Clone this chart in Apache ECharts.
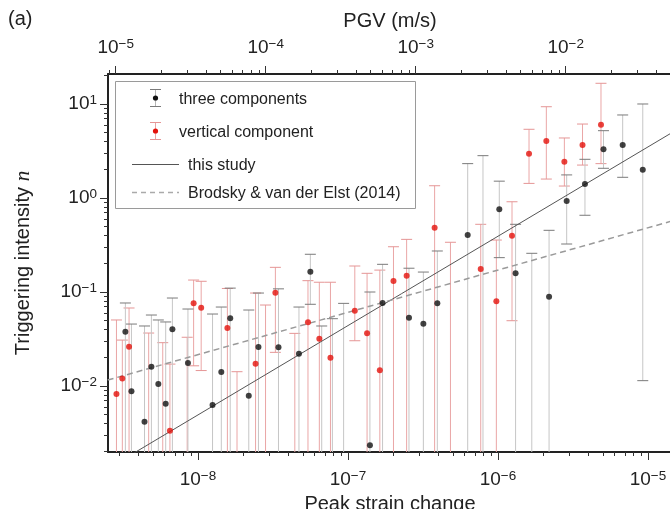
<!DOCTYPE html>
<html>
<head>
<meta charset="utf-8">
<script src="https://cdn.jsdelivr.net/npm/echarts@6/dist/echarts.min.js"></script>
<style>html,body{margin:0;padding:0;background:#fff}#c{width:670px;height:509px}</style>
</head>
<body>
<div id="c"></div>
<script>
// ---------- data ----------
// three components: peak strain change, triggering intensity, lower/upper error (0 = extends below axis)
const threeStrain = [3.28e-9,3.60e-9,4.40e-9,4.89e-9,5.44e-9,6.09e-9,6.75e-9,8.57e-9,1.25e-8,1.43e-8,1.64e-8,2.18e-8,2.53e-8,3.44e-8,4.71e-8,5.61e-8,1.40e-7,1.70e-7,2.55e-7,3.18e-7,3.94e-7,6.28e-7,1.02e-6,1.31e-6,2.19e-6,2.87e-6,3.80e-6,5.05e-6,6.78e-6,9.23e-6];
const threeN      = [0.0378,0.00877,0.00417,0.0160,0.0105,0.00649,0.0401,0.0176,0.00628,0.0141,0.0525,0.00788,0.026,0.0258,0.0220,0.164,0.00234,0.0764,0.0533,0.046,0.0757,0.404,0.758,0.158,0.0891,0.929,1.41,3.30,3.66,2.00];
const threeLow    = [0,0,0,0,0,0,0,0,0,0,0,0,0,0,0,0.0740,0,0,0,0,0,0,0.232,0,0,0.324,0.655,2.07,1.66,0.0114];
const threeHigh   = [0.0764,0.0456,0.0435,0.0569,0.0504,0.048,0.0863,0.0659,0.0583,0.0692,0.110,0.0643,0.0975,0.108,0.0692,0.252,0.100,0.197,0.179,0.163,0.273,2.32,1.51,0.525,0.453,1.76,2.58,5.20,7.64,10.0];
// three components whose intensity lies below the plotted range (only upper error visible)
const threeHiddenStrain = [6.68e-8,7.87e-8,9.35e-8,7.94e-7,1.68e-6];
const threeHiddenHigh   = [0.0435,0.052,0.0757,2.82,0.258];

// vertical component
const vertStrain = [2.86e-9,3.13e-9,3.47e-9,6.50e-9,9.35e-9,1.05e-8,1.57e-8,2.42e-8,3.28e-8,5.41e-8,6.44e-8,7.64e-8,1.11e-7,1.34e-7,1.63e-7,2.01e-7,2.46e-7,3.78e-7,7.67e-7,9.75e-7,1.24e-6,1.61e-6,2.10e-6,2.77e-6,3.66e-6,4.86e-6];
const vertN      = [0.00822,0.0120,0.0262,0.00334,0.0757,0.0681,0.0414,0.0173,0.0982,0.0476,0.0318,0.0200,0.0632,0.0363,0.0147,0.131,0.149,0.483,0.176,0.0796,0.397,2.96,4.04,2.43,3.66,6.02];
const vertLow    = [0,0,0,0,0.0164,0.0146,0,0,0.0228,0,0,0,0.0303,0,0,0,0,0,0,0,0.0495,1.43,1.59,1.34,2.24,2.32];
const vertHigh   = [0.0504,0.0308,0.0676,0.0171,0.134,0.130,0.109,0.0975,0.183,0.132,0.127,0.127,0.189,0.158,0.171,0.303,0.363,1.35,0.525,0.357,0.912,5.38,9.35,4.35,6.12,16.6];
const vertHiddenStrain = [4.69e-9,5.82e-9,8.47e-9,1.82e-8,2.82e-8,4.42e-8,4.82e-7];
const vertHiddenHigh   = [0.0366,0.0289,0.033,0.0142,0.0727,0.0363,0.338];

// fitted lines
const thisStudyStrain = [2.5e-9, 1.5e-5];
const thisStudyN      = [0.00132, 5.14];
const brodskyStrain   = [2.5e-9, 1.5e-5];
const brodskyN        = [0.01156, 0.579];

// axes (log10 exponents)
const strainTicks = [-8,-7,-6,-5];
const pgvTicks    = [-5,-4,-3,-2];
const nTicks      = [-2,-1,0,1];
const pgvPerStrain = 3540;   // PGV (m/s) = strain * 3540

// ---------- build ----------
const LOG = Math.log10;
const FONT = "'Liberation Sans', Arial, Helvetica, sans-serif";
const X_MIN = -8.6, X_MAX = -4.84, Y_MIN = -2.702, Y_MAX = 1.319;
const PGV_SHIFT = LOG(pgvPerStrain);

function minorTicks(min, max) {
  const out = [];
  for (let n = Math.floor(min); n <= Math.ceil(max); n++)
    for (let k = 2; k <= 9; k++) { const v = n + LOG(k); if (v > min && v < max) out.push(v); }
  return out;
}
function powLabel(v) {
  const e = Math.round(v);
  return '{b|10}{s|' + (e < 0 ? '\u2212' + (-e) : String(e)) + '}';
}
const rich = {
  b: {fontSize: 19, fontFamily: FONT, color: '#222', lineHeight: 22},
  s: {fontSize: 13.5, fontFamily: FONT, color: '#222', lineHeight: 13, verticalAlign: 'top'}
};
const nameStyle = {fontSize: 20, fontFamily: FONT, color: '#222'};

function majorAxis(position, min, max, ticks, name, nameGap, margin) {
  return {
    type: 'value', position, min, max,
    axisLine: {show: true, onZero: false, lineStyle: {color: '#222', width: 2}},
    axisTick: {show: true, customValues: ticks, length: 8, lineStyle: {color: '#333', width: 1}},
    axisLabel: {show: true, customValues: ticks, formatter: powLabel, rich, margin},
    splitLine: {show: false},
    name, nameLocation: 'middle', nameGap, nameTextStyle: nameStyle
  };
}
function minorAxis(position, min, max) {
  return {
    type: 'value', position, min, max,
    axisLine: {show: false, onZero: false},
    axisTick: {show: true, customValues: minorTicks(min, max), length: 4, lineStyle: {color: '#333', width: 1}},
    axisLabel: {show: false},
    splitLine: {show: false}
  };
}

function errorBars(lineColor, capColor) {
  return function (params, api) {
    const cs = params.coordSys;
    const x = api.value(0), lo = api.value(1), hi = api.value(2);
    const top = api.coord([x, hi]);
    const bot = api.coord([x, lo]);
    const yMin = cs.y, yMax = cs.y + cs.height;
    const px = top[0], w = 5.5;
    const y1 = Math.max(yMin, top[1]), y2 = Math.min(yMax, bot[1]);
    const children = [{type: 'line', shape: {x1: px, y1: y1, x2: px, y2: y2}, style: {stroke: lineColor, lineWidth: 1}}];
    if (top[1] >= yMin) children.push({type: 'line', shape: {x1: px - w, y1: top[1], x2: px + w, y2: top[1]}, style: {stroke: capColor, lineWidth: 1}});
    if (bot[1] <= yMax) children.push({type: 'line', shape: {x1: px - w, y1: bot[1], x2: px + w, y2: bot[1]}, style: {stroke: capColor, lineWidth: 1}});
    return {type: 'group', children};
  };
}
function barData(strain, low, high) {
  return strain.map((s, i) => [LOG(s), low[i] > 0 ? LOG(low[i]) : -99, LOG(high[i])]);
}

const threeBars = barData(threeStrain, threeLow, threeHigh)
  .concat(barData(threeHiddenStrain, threeHiddenStrain.map(() => 0), threeHiddenHigh));
const vertBars = barData(vertStrain, vertLow, vertHigh)
  .concat(barData(vertHiddenStrain, vertHiddenStrain.map(() => 0), vertHiddenHigh));

const option = {
  animation: false,
  backgroundColor: '#fff',
  grid: {left: 108, right: -2, top: 74, bottom: 57, containLabel: false, outerBoundsMode: 'none'},
  xAxis: [
    majorAxis('bottom', X_MIN, X_MAX, strainTicks, 'Peak strain change', 37, 17),
    minorAxis('bottom', X_MIN, X_MAX),
    majorAxis('top', X_MIN + PGV_SHIFT, X_MAX + PGV_SHIFT, pgvTicks, 'PGV (m/s)', 43, 15),
    minorAxis('top', X_MIN + PGV_SHIFT, X_MAX + PGV_SHIFT)
  ],
  yAxis: [
    Object.assign(majorAxis('left', Y_MIN, Y_MAX, nTicks, 'Triggering intensity {i|n}', 74, 11), {
      nameTextStyle: Object.assign({}, nameStyle, {rich: {i: {fontSize: 21, fontFamily: "'Liberation Serif', 'Times New Roman', serif", fontStyle: 'italic', color: '#222'}}})
    }),
    minorAxis('left', Y_MIN, Y_MAX)
  ],
  series: [
    {type: 'custom', name: 'vertical component bars', xAxisIndex: 0, yAxisIndex: 0, renderItem: errorBars('#eaa6a6', '#e59595'),
     data: vertBars, encode: {x: 0, y: [1, 2]}, z: 1, silent: true},
    {type: 'custom', name: 'three components bars', xAxisIndex: 0, yAxisIndex: 0, renderItem: errorBars('#c6c6c6', '#7a7a7a'),
     data: threeBars, encode: {x: 0, y: [1, 2]}, z: 1, silent: true},
    {type: 'line', name: 'this study', xAxisIndex: 0, yAxisIndex: 0, showSymbol: false, silent: true, z: 2,
     data: thisStudyStrain.map((s, i) => [LOG(s), LOG(thisStudyN[i])]),
     lineStyle: {color: '#555', width: 1}},
    {type: 'line', name: 'Brodsky & van der Elst (2014)', xAxisIndex: 0, yAxisIndex: 0, showSymbol: false, silent: true, z: 2,
     data: brodskyStrain.map((s, i) => [LOG(s), LOG(brodskyN[i])]),
     lineStyle: {color: '#9a9a9a', width: 1.5, type: [6, 4]}},
    {type: 'scatter', name: 'three components', xAxisIndex: 0, yAxisIndex: 0, symbolSize: 6, z: 3,
     itemStyle: {color: '#111'}, data: threeStrain.map((s, i) => [LOG(s), LOG(threeN[i])])},
    {type: 'scatter', name: 'vertical component', xAxisIndex: 0, yAxisIndex: 0, symbolSize: 6, z: 3,
     itemStyle: {color: '#e3120b'}, data: vertStrain.map((s, i) => [LOG(s), LOG(vertN[i])])}
  ],
  graphic: [
    {type: 'text', left: 8, top: 9, style: {text: '(a)', fontSize: 20, fontFamily: FONT, fill: '#222'}},
    {type: 'group', z: 10, children: [
      {type: 'rect', shape: {x: 115.5, y: 81.5, width: 300, height: 127}, style: {fill: '#fff', stroke: '#9a9a9a', lineWidth: 1}},
      {type: 'line', shape: {x1: 155.5, y1: 89, x2: 155.5, y2: 107}, style: {stroke: '#b5b5b5', lineWidth: 1}},
      {type: 'line', shape: {x1: 150, y1: 89.5, x2: 161, y2: 89.5}, style: {stroke: '#7a7a7a', lineWidth: 1}},
      {type: 'line', shape: {x1: 150, y1: 106.5, x2: 161, y2: 106.5}, style: {stroke: '#7a7a7a', lineWidth: 1}},
      {type: 'circle', shape: {cx: 155.5, cy: 98, r: 2.6}, style: {fill: '#111'}},
      {type: 'text', x: 179, y: 100, style: {text: 'three components', fontSize: 16, fontFamily: FONT, fill: '#222', verticalAlign: 'middle'}},
      {type: 'line', shape: {x1: 155.5, y1: 122, x2: 155.5, y2: 140}, style: {stroke: '#eaa6a6', lineWidth: 1}},
      {type: 'line', shape: {x1: 150, y1: 122.5, x2: 161, y2: 122.5}, style: {stroke: '#e59595', lineWidth: 1}},
      {type: 'line', shape: {x1: 150, y1: 139.5, x2: 161, y2: 139.5}, style: {stroke: '#e59595', lineWidth: 1}},
      {type: 'circle', shape: {cx: 155.5, cy: 131, r: 2.6}, style: {fill: '#e3120b'}},
      {type: 'text', x: 179, y: 133, style: {text: 'vertical component', fontSize: 16, fontFamily: FONT, fill: '#222', verticalAlign: 'middle'}},
      {type: 'line', shape: {x1: 132, y1: 164.5, x2: 179, y2: 164.5}, style: {stroke: '#555', lineWidth: 1}},
      {type: 'text', x: 188, y: 166, style: {text: 'this study', fontSize: 16, fontFamily: FONT, fill: '#222', verticalAlign: 'middle'}},
      {type: 'line', shape: {x1: 132, y1: 192.5, x2: 179, y2: 192.5}, style: {stroke: '#aaa', lineWidth: 1.5, lineDash: [5, 4]}},
      {type: 'text', x: 188, y: 194, style: {text: 'Brodsky & van der Elst (2014)', fontSize: 16, fontFamily: FONT, fill: '#222', verticalAlign: 'middle'}}
    ]}
  ]
};

const chart = echarts.init(document.getElementById('c'), null, {renderer: 'canvas'});
chart.setOption(option);
</script>
</body>
</html>
